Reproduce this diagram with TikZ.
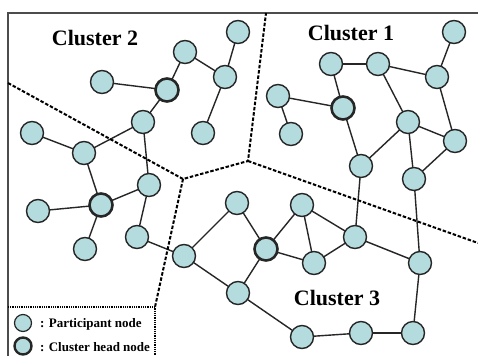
\documentclass[tikz,border=0pt]{standalone}
\usepackage{fontspec}
\setmainfont{Liberation Serif}
\pgfdeclarelayer{bglayer}
\pgfdeclarelayer{edgelayer}
\pgfsetlayers{bglayer,edgelayer,main}
\begin{document}
\begin{tikzpicture}[x=1pt,y=-1pt,
  pnode/.style={circle,draw=black!85,line width=1.4pt,fill=nodefill,minimum size=23pt,inner sep=0pt},
  hnode/.style={pnode,line width=2.6pt},
  lpnode/.style={circle,draw=black!85,line width=1.2pt,fill=nodefill,minimum size=17pt,inner sep=0pt},
  lhnode/.style={lpnode,line width=2.4pt},
  link/.style={draw=black!85,line width=1.4pt},
  border/.style={draw=black!70,line width=1.6pt},
  region/.style={draw=black,line width=2pt,dash pattern=on 3.5pt off 1.8pt},
  legendline/.style={draw=black,line width=1.4pt,dash pattern=on 1pt off 0.8pt},
  ctitle/.style={font=\fontsize{22}{24}\selectfont\bfseries},
  ltext/.style={font=\fontsize{13}{15}\selectfont\bfseries,anchor=west,inner sep=0pt}
]
\definecolor{nodefill}{RGB}{180,220,222}
\useasboundingbox (0,0) rectangle (478,356);
\begin{pgfonlayer}{bglayer}
\fill[white] (0,0) rectangle (478,356);
\end{pgfonlayer}
% outer frame
\coordinate (fTL) at (8,13);
\coordinate (fTR) at (478,13);
\coordinate (fBL) at (8,356);
\draw[border] (fBL) -- (fTL) -- (fTR);
% region boundaries
\coordinate (jA) at (183,179);
\coordinate (jB) at (248,161);
\coordinate (eL) at (8,83);
\coordinate (eT) at (266,13);
\coordinate (eR) at (478,243);
\coordinate (eLg) at (155,307);
\draw[region] (eL) -- (jA) -- (jB) -- (eT);
\draw[region] (jB) -- (eR);
\draw[region] (jA) -- (eLg);
% legend box
\coordinate (lgL) at (8,307);
\coordinate (lgB) at (155,356);
\draw[legendline] (lgL) -- (eLg) -- (lgB);
% titles
\node[ctitle] (t2) at (95,38) {Cluster 2};
\node[ctitle] (t1) at (351,33) {Cluster 1};
\node[ctitle] (t3) at (337,298) {Cluster 3};
% cluster 2 nodes
\node[pnode] (a) at (238,32) {};
\node[pnode] (b) at (185,52) {};
\node[pnode] (c) at (225,77) {};
\node[pnode] (d) at (102,82) {};
\node[hnode] (e) at (167,90) {};
\node[pnode] (f) at (203,133) {};
\node[pnode] (g) at (143,122) {};
\node[pnode] (h) at (32,133) {};
\node[pnode] (i) at (84,153) {};
\node[pnode] (j) at (149,185) {};
\node[hnode] (k) at (101,205) {};
\node[pnode] (l) at (38,211) {};
\node[pnode] (m) at (85,249) {};
\node[pnode] (n) at (137,237) {};
\node[pnode] (o) at (184,256) {};
% cluster 1 nodes
\node[pnode] (p) at (454,32) {};
\node[pnode] (q) at (331,64) {};
\node[pnode] (r) at (378,64) {};
\node[pnode] (s) at (437,77) {};
\node[pnode] (t) at (278,96) {};
\node[hnode] (u) at (343,108) {};
\node[pnode] (v) at (291,134) {};
\node[pnode] (w) at (408,122) {};
\node[pnode] (x) at (455,141) {};
\node[pnode] (y) at (361,166) {};
\node[pnode] (z) at (414,179) {};
% cluster 3 nodes
\node[pnode] (ca) at (237,203) {};
\node[pnode] (cb) at (302,205) {};
\node[hnode] (ch) at (266,249) {};
\node[pnode] (cc) at (314,263) {};
\node[pnode] (cd) at (355,237) {};
\node[pnode] (ce) at (420,263) {};
\node[pnode] (cf) at (238,293) {};
\node[pnode] (cg) at (302,337) {};
\node[pnode] (ci) at (361,333) {};
\node[pnode] (cj) at (413,333) {};
% links behind the nodes
\begin{pgfonlayer}{edgelayer}
\foreach \u/\v in {b/e,b/c,c/a,c/f,d/e,e/g,g/i,h/i,g/j,i/k,k/j,k/l,k/m,j/n,n/o,
  o/ca,o/cf,ca/ch,ch/cb,ch/cc,cb/cc,cb/cd,cc/cd,cd/y,cd/ce,ce/z,ce/cj,cj/ci,ci/cg,cg/cf,ch/cf,
  p/s,q/r,r/s,q/u,t/u,t/v,r/w,s/x,w/x,u/y,w/y,w/z,x/z}
  \draw[link] (\u.center) -- (\v.center);
\end{pgfonlayer}
% legend
\node[lpnode] (lp) at (23,323) {};
\node[lhnode] (lh) at (23,346) {};
\node[ltext] (lpt) at (40,324) {: Participant node};
\node[ltext] (lht) at (40,347) {: Cluster head node};
\end{tikzpicture}
\end{document}
